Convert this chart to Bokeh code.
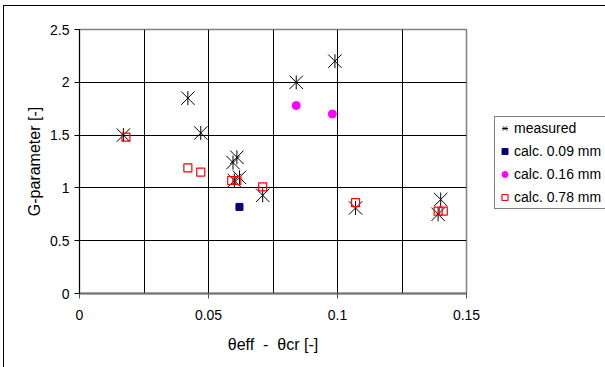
import math
from bokeh.plotting import figure
from bokeh.models import FixedTicker, Legend, LegendItem, Range1d
from bokeh.layouts import row
from bokeh.embed import file_html
from bokeh.resources import INLINE

# ---- data ----
measured_x = [0.017, 0.042, 0.047, 0.0595, 0.061, 0.060, 0.062, 0.071, 0.084, 0.099, 0.107, 0.140, 0.139]
measured_y = [1.50, 1.85, 1.52, 1.24, 1.29, 1.07, 1.10, 0.93, 2.00, 2.20, 0.81, 0.89, 0.75]

calc09_x = [0.062]
calc09_y = [0.82]

calc16_x = [0.084, 0.098]
calc16_y = [1.78, 1.70]

calc78_x = [0.018, 0.042, 0.047, 0.059, 0.061, 0.071, 0.107, 0.139, 0.141]
calc78_y = [1.48, 1.19, 1.15, 1.07, 1.07, 1.01, 0.86, 0.78, 0.78]

x_ticks = [0, 0.05, 0.1, 0.15]
x_tick_labels = ["0", "0.05", "0.1", "0.15"]
x_grid = [0.025, 0.05, 0.075, 0.1, 0.125]
y_ticks = [0, 0.5, 1, 1.5, 2, 2.5]
y_tick_labels = ["0", "0.5", "1", "1.5", "2", "2.5"]
y_grid = [0.5, 1, 1.5, 2]

series_labels = ["measured", "calc. 0.09 mm", "calc. 0.16 mm", "calc. 0.78 mm"]

FONT = "Liberation Sans"

# marker styles
MEAS_X = dict(marker="x", size=19, line_color="black", line_width=1)
MEAS_V = dict(marker="dash", size=14, angle=math.pi / 2, line_color="black", line_width=1)
C09 = dict(marker="square", size=7, fill_color="#000080", line_color="#000080")
C16 = dict(marker="circle", size=8, fill_color="#FF00FF", line_color="#FF00FF")
C78 = dict(marker="square", size=8, fill_color="white", fill_alpha=0,
           line_color="#FF0000", line_width=1.2)

p = figure(width=489, height=361, x_range=Range1d(0, 0.15), y_range=Range1d(0, 2.5),
           output_backend="svg", toolbar_location=None,
           min_border_left=75, min_border_right=27, min_border_top=23, min_border_bottom=74)

p.outline_line_color = "#808080"
p.outline_line_width = 1.5

# axes
p.xaxis.ticker = FixedTicker(ticks=x_ticks)
p.xaxis.major_label_overrides = {t: l for t, l in zip(x_ticks, x_tick_labels)}
p.yaxis.ticker = FixedTicker(ticks=y_ticks)
p.yaxis.major_label_overrides = {t: l for t, l in zip(y_ticks, y_tick_labels)}
for ax in (p.xaxis, p.yaxis):
    ax.minor_tick_line_color = None
    ax.major_tick_in = 0
    ax.major_tick_out = 5
    ax.major_label_text_font = FONT
    ax.major_label_text_font_size = "14px"
    ax.major_label_text_color = "black"
    ax.axis_label_text_font = FONT
    ax.axis_label_text_font_size = "16px"
    ax.axis_label_text_font_style = "normal"
    ax.axis_label_text_color = "black"
p.xaxis.major_label_standoff = 11
p.yaxis.major_label_standoff = 5
p.xaxis.axis_line_color = "#707070"
p.xaxis.axis_line_width = 2
p.xaxis.major_tick_line_color = "#505050"
p.yaxis.axis_line_color = "black"
p.yaxis.major_tick_line_color = "black"
p.xaxis.axis_label = "\u03b8eff\u00a0\u00a0-\u00a0\u00a0\u03b8cr [-]"
p.yaxis.axis_label = "G-parameter [-]"
p.xaxis.axis_label_standoff = 13
p.yaxis.axis_label_standoff = 4

# grid
p.xgrid.ticker = FixedTicker(ticks=x_grid)
p.ygrid.ticker = FixedTicker(ticks=y_grid)
for g in (p.xgrid, p.ygrid):
    g.grid_line_color = "black"
    g.grid_line_width = 1
    g.grid_line_alpha = 1

# series
p.scatter(measured_x, measured_y, **MEAS_X)
p.scatter(measured_x, measured_y, **MEAS_V)
p.scatter(calc09_x, calc09_y, **C09)
p.scatter(calc16_x, calc16_y, **C16)
p.scatter(calc78_x, calc78_y, **C78)

# legend panel (separate canvas to the right; the series are plotted there on a range
# that keeps them out of view, only their legend is visible, clipped at the page edge)
pl = figure(width=112, height=361, x_range=Range1d(10, 11), y_range=Range1d(10, 11),
            output_backend="svg", toolbar_location=None,
            x_axis_type=None, y_axis_type=None, min_border=0)
pl.outline_line_color = None
pl.grid.visible = False
lm_x = pl.scatter(measured_x, measured_y, **MEAS_X)
lm_v = pl.scatter(measured_x, measured_y, **MEAS_V)
l09 = pl.scatter(calc09_x, calc09_y, **C09)
l16 = pl.scatter(calc16_x, calc16_y, **C16)
l78 = pl.scatter(calc78_x, calc78_y, **C78)

legend = Legend(items=[LegendItem(label=series_labels[0], renderers=[lm_x, lm_v], index=0),
                       LegendItem(label=series_labels[1], renderers=[l09], index=0),
                       LegendItem(label=series_labels[2], renderers=[l16], index=0),
                       LegendItem(label=series_labels[3], renderers=[l78], index=0)],
                location=(1, 84))
legend.label_text_font = FONT
legend.label_text_font_size = "14px"
legend.label_text_color = "black"
legend.label_height = 18
legend.label_width = 100
legend.glyph_height = 18
legend.glyph_width = 15
legend.label_standoff = 2
legend.spacing = 5
legend.padding = 2
legend.margin = 0
legend.border_line_color = "black"
legend.border_line_width = 1
legend.background_fill_color = "white"
legend.background_fill_alpha = 1
pl.add_layout(legend, "center")

# outer chart frame: left and top border lines of the chart area
layout = row(p, pl, spacing=0,
             styles={"margin-left": "3px", "margin-top": "5px",
                     "border-left": "1px solid black", "border-top": "1px solid black"})
open("out.html", "w").write(file_html(layout, INLINE))
